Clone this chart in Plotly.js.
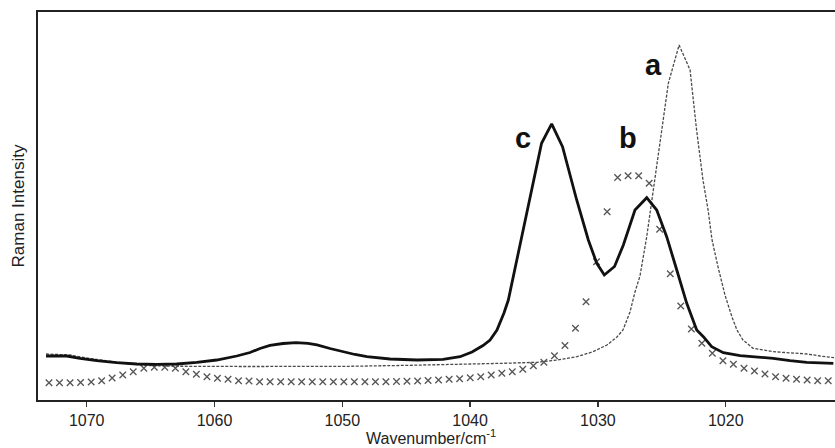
<!DOCTYPE html>
<html>
<head>
<meta charset="utf-8">
<script src="https://cdn.plot.ly/plotly-3.0.1.min.js"></script>
<style>
  html, body { margin: 0; padding: 0; background: #ffffff; }
  #chart { width: 835px; height: 448px; }
</style>
</head>
<body>
<div id="chart"></div>
<script>
// Spectrum a: thin dashed trace
const wavenumberA = [1073.18, 1071.31, 1069.74, 1068.18, 1066.61, 1065.05, 1063.48, 1057.22, 1049.40,
  1044.70, 1040.01, 1037.43, 1034.77, 1033.20, 1031.64, 1030.38, 1029.29, 1028.51, 1028.04, 1027.49,
  1027.10, 1026.71, 1026.18, 1025.79, 1025.53, 1025.01, 1024.49, 1023.65, 1022.79, 1022.28, 1021.78,
  1021.38, 1021.07, 1020.60, 1020.06, 1019.51, 1019.12, 1018.65, 1017.86, 1016.30, 1014.97, 1013.64,
  1012.62, 1011.53];
const intensityA = [11.86, 11.60, 10.70, 9.92, 9.28, 8.89, 8.71, 8.63, 8.69,
  8.94, 9.20, 9.46, 9.72, 10.31, 11.16, 12.45, 14.18, 16.24, 18.04, 22.68,
  27.84, 31.96, 42.09, 51.55, 56.70, 69.59, 81.62, 91.49, 85.05, 69.59, 56.70,
  48.97, 41.24, 34.28, 27.06, 21.39, 18.04, 15.46, 13.32, 12.45, 12.19, 11.86,
  11.34, 10.90];

// Spectrum b: sampled points drawn as crosses
const wavenumberB = [1072.95, 1072.13, 1071.30, 1070.48, 1069.65, 1068.83, 1068.01, 1067.18, 1066.36, 1065.53,
  1064.71, 1063.89, 1063.06, 1062.24, 1061.42, 1060.59, 1059.77, 1058.94, 1058.12, 1057.30,
  1056.47, 1055.65, 1054.82, 1054.00, 1053.18, 1052.35, 1051.53, 1050.70, 1049.88, 1049.06,
  1048.23, 1047.41, 1046.59, 1045.76, 1044.94, 1044.11, 1043.29, 1042.47, 1041.64, 1040.82,
  1039.99, 1039.17, 1038.35, 1037.52, 1036.70, 1035.88, 1035.05, 1034.23, 1033.40, 1032.58,
  1031.76, 1030.93, 1030.11, 1029.28, 1028.46, 1027.64, 1026.81, 1025.99, 1025.17, 1024.34,
  1023.52, 1022.69, 1021.87, 1021.05, 1020.22, 1019.40, 1018.57, 1017.75, 1016.93, 1016.10,
  1015.28, 1014.46, 1013.63, 1012.81, 1011.98];
const intensityB = [4.46, 4.46, 4.46, 4.51, 4.64, 4.97, 5.67, 6.44, 7.29, 8.17,
  8.43, 8.43, 8.17, 7.29, 6.62, 6.01, 5.59, 5.34, 4.97, 4.90,
  4.72, 4.72, 4.72, 4.72, 4.72, 4.72, 4.72, 4.72, 4.72, 4.72,
  4.72, 4.72, 4.72, 4.77, 4.82, 4.90, 5.03, 5.15, 5.34, 5.49,
  5.75, 6.01, 6.44, 6.88, 7.29, 7.91, 8.84, 9.72, 11.42, 14.05,
  18.48, 25.34, 35.64, 48.53, 57.35, 57.81, 57.81, 55.85, 44.02, 32.55,
  24.23, 18.30, 14.61, 12.04, 10.13, 9.20, 8.17, 7.47, 6.70, 6.01,
  5.59, 5.34, 5.15, 4.97, 4.97];

// Spectrum c: thick solid trace
const wavenumberC = [1073.18, 1071.56, 1070.52, 1069.22, 1067.65, 1066.09, 1064.52, 1062.96, 1061.39, 1059.83,
  1058.26, 1057.22, 1056.44, 1055.66, 1054.64, 1053.62, 1052.68, 1051.98, 1050.96, 1049.95,
  1049.01, 1048.07, 1046.27, 1044.15, 1042.12, 1040.79, 1039.85, 1038.99, 1038.44, 1037.90,
  1037.35, 1037.01, 1034.41, 1033.62, 1032.77, 1031.66, 1030.75, 1030.09, 1029.50, 1028.70,
  1028.01, 1027.10, 1026.18, 1025.40, 1024.62, 1023.83, 1023.05, 1022.27, 1021.75, 1021.10,
  1020.19, 1018.88, 1017.57, 1016.28, 1014.97, 1013.66, 1011.58];
const intensityC = [11.34, 11.34, 10.75, 10.13, 9.61, 9.28, 9.20, 9.28, 9.72, 10.31,
  11.34, 12.24, 13.27, 14.05, 14.56, 14.77, 14.61, 14.18, 13.27, 12.45,
  11.73, 11.16, 10.57, 10.31, 10.49, 11.16, 12.37, 14.05, 15.46, 18.04,
  22.42, 25.77, 66.16, 71.19, 65.28, 51.55, 41.24, 35.23, 32.22, 34.41,
  39.95, 48.97, 52.14, 48.97, 42.09, 33.51, 24.92, 18.04, 16.31, 13.74,
  12.19, 11.42, 11.16, 10.75, 10.13, 9.72, 9.46];

const tickValues = [1070, 1060, 1050, 1040, 1030, 1020];
const tickLabels = ['1070', '1060', '1050', '1040', '1030', '1020'];

// Peak labels: [text, wavenumber, intensity]
const peakLabels = [['a', 1025.67, 86.3], ['b', 1027.64, 67.4], ['c', 1035.90, 67.4]];

const FONT = 'Liberation Sans, Arial, Helvetica, sans-serif';

const traces = [
  {
    x: wavenumberA, y: intensityA, type: 'scatter', mode: 'lines', name: 'a',
    line: { color: '#4a4a4a', width: 1.3, dash: '3px,1.5px' }
  },
  {
    x: wavenumberB, y: intensityB, type: 'scatter', mode: 'markers', name: 'b',
    marker: { symbol: 'x-thin', size: 6.5, color: '#555555', line: { color: '#555555', width: 1.3 } }
  },
  {
    x: wavenumberC, y: intensityC, type: 'scatter', mode: 'lines', name: 'c',
    line: { color: '#111111', width: 2.8 }
  }
];

const annotations = peakLabels.map(p => ({
  text: '<b>' + p[0] + '</b>',
  x: p[1], y: p[2], xref: 'x', yref: 'y',
  showarrow: false,
  xanchor: 'center', yanchor: 'middle',
  font: { family: FONT, size: 29, color: '#111111' }
}));

// x-axis title, set just below the tick labels (the bottom margin would clamp an axis title)
annotations.push({
  text: 'Wavenumber/cm<sup>-1</sup>',
  xref: 'paper', yref: 'paper',
  x: 0.493, y: -0.095,
  xanchor: 'center', yanchor: 'middle',
  showarrow: false,
  font: { family: FONT, size: 16, color: '#222222' }
});

const layout = {
  width: 835,
  height: 448,
  margin: { l: 38, r: 0, t: 12, b: 48 },
  paper_bgcolor: '#ffffff',
  plot_bgcolor: '#ffffff',
  showlegend: false,
  font: { family: FONT, color: '#222222' },
  xaxis: {
    range: [1073.81, 1011.45],
    tickmode: 'array',
    tickvals: tickValues,
    ticktext: tickLabels,
    ticks: 'outside',
    ticklen: 5,
    tickwidth: 1.5,
    tickcolor: '#333333',
    tickfont: { family: FONT, size: 16, color: '#222222' },
    showgrid: false,
    zeroline: false,
    showline: true,
    mirror: true,
    linecolor: '#222222',
    linewidth: 1.8,
    automargin: false
  },
  yaxis: {
    range: [0, 100],
    showticklabels: false,
    ticks: '',
    showgrid: false,
    zeroline: false,
    showline: true,
    linecolor: '#222222',
    linewidth: 1.8,
    automargin: false,
    title: { text: 'Raman Intensity', font: { family: FONT, size: 17, color: '#222222' }, standoff: 7 }
  },
  annotations: annotations
};

Plotly.newPlot('chart', traces, layout, { staticPlot: true, displayModeBar: false });
</script>
</body>
</html>
